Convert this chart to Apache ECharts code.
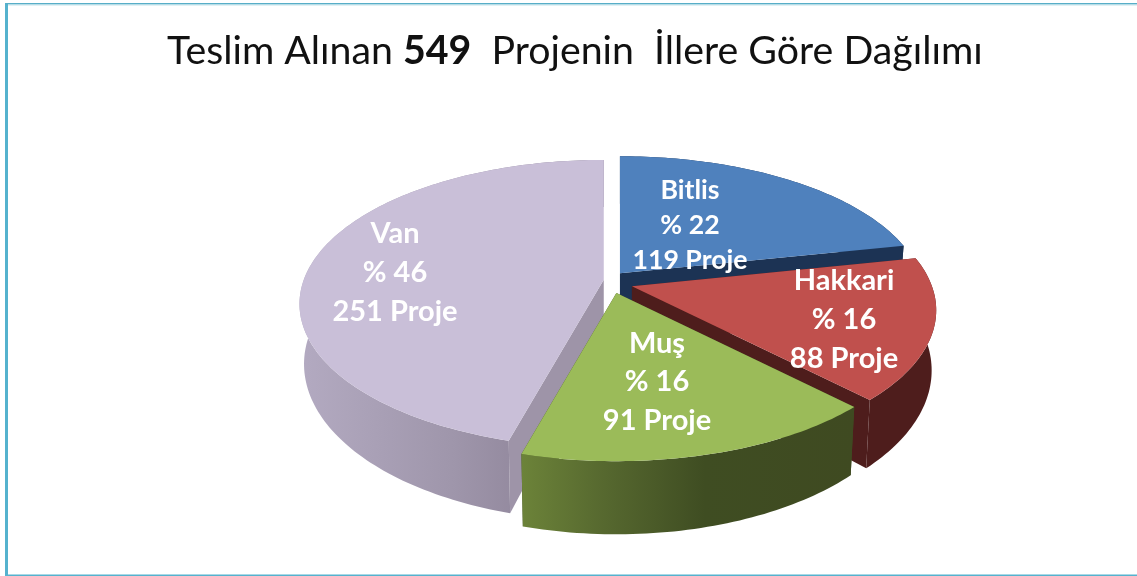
<!DOCTYPE html>
<html><head><meta charset="utf-8">
<style>html,body{margin:0;padding:0;background:#fff}#c{width:1137px;height:576px}</style>
<script src="https://cdn.jsdelivr.net/npm/echarts@6/dist/echarts.min.js"></script>
</head><body><div id="c"></div>
<script>
const provinces = ['Bitlis', 'Hakkari', 'Muş', 'Van'];
const projectCounts = [119, 88, 91, 251];
const percents = [22, 16, 16, 46];

/* style of each slice, clockwise from twelve o'clock */
const topColors = ['#4F81BD', '#C0504D', '#9BBB59', '#C9BFD8'];
const edgeColors = ['#1C3354', '#4E1D1C', '#3F4D22', '#9E94A8'];
const sideStops = [
  [[0, '#1C3354'], [1, '#1C3354']],
  [[0, '#4E1D1C'], [1, '#4E1D1C']],
  [[0, '#6C8339'], [0.25, '#56682F'], [0.55, '#3F4D22'], [1, '#3F4A21']],
  [[0, '#B3AAC1'], [0.5, '#9F96AB'], [1, '#857A8F']]
];
const explodeFactor = [1, 1.8, 1.25, 0.85];
const backScale = [0.975, 1, 1, 1];
const labelCenters = [[690, 225], [844, 320], [657, 382], [395, 273]];
const labelSizes = [26.7, 29, 29, 29];
const labelLeading = [35, 39, 38.5, 39];
const drawOrder = [0, 3, 1, 2];

const total = projectCounts.reduce((a, b) => a + b, 0);
const view = { cx: 613, cy: 281, ex: 11, ey: 10, R: 300, A: 140, k: 0.167, sx: 0.985, sy: 1.09, d: 58 };
const TAU = Math.PI * 2;

function project(c, t, bottom, ys) {
  const u = Math.sin(t), v = Math.cos(t), w = 1 + view.k * v;
  let x = view.R * u / w, y = -view.A * ys * v / w;
  if (bottom) { x *= view.sx; y = y * view.sy + view.d; }
  return [c[0] + x, c[1] + y];
}
function arc(c, a0, a1, bottom, ys) {
  const n = Math.max(8, Math.ceil((a1 - a0) / 0.02)), pts = [];
  for (let i = 0; i <= n; i++) pts.push(project(c, a0 + (a1 - a0) * i / n, bottom, ys));
  return pts;
}
function renderSlice(params, api) {
  const i = params.dataIndex, value = api.value(1);
  let a0 = 0;
  for (let j = 0; j < i; j++) a0 += projectCounts[j] / total * TAU;
  const a1 = a0 + value / total * TAU, mid = (a0 + a1) / 2;
  const f = explodeFactor[i];
  const c = [view.cx + view.ex * f * Math.sin(mid), view.cy - view.ey * f * Math.cos(mid)];
  const cb = [c[0], c[1] + view.d];
  const z = drawOrder.indexOf(i) * 10;
  const poly = (points, fill, dz) => ({
    type: 'polygon', z2: z + dz, shape: { points },
    style: { fill, stroke: null }
  });
  const top = arc(c, a0, a1, false, backScale[i]), bot = arc(c, a0, a1, true, backScale[i]);
  const side = top.concat(bot.slice().reverse());
  const lab = labelCenters[i], fs = labelSizes[i], lead = labelLeading[i];
  const lines = [api.value(0), '% ' + api.value(2), value + ' Proje'];
  return {
    type: 'group',
    children: [
      poly([c, top[0], bot[0], cb], edgeColors[i], 1),
      poly([c, top[top.length - 1], bot[bot.length - 1], cb], edgeColors[i], 1),
      poly(side, { type: 'linear', x: 0, y: 0, x2: 1, y2: 0, colorStops: sideStops[i].map(s => ({ offset: s[0], color: s[1] })) }, 2),
      poly([c].concat(top), topColors[i], 3)
    ].concat(lines.map((t, n) => ({
      type: 'text', z2: 200,
      style: {
        text: String(t), x: lab[0], y: lab[1] + (n - 1) * lead,
        align: 'center', verticalAlign: 'middle',
        fill: '#fff', fontFamily: 'Lato', fontWeight: 'bold', fontSize: fs
      }
    })))
  };
}

const frameColor = '#55B2CE';
const chart = echarts.init(document.getElementById('c'), null, { renderer: 'canvas' });
chart.setOption({
  animation: false,
  backgroundColor: '#fff',
  title: {
    text: 'Teslim Alınan {b|549}  Projenin  İllere Göre Dağılımı',
    left: 167, top: 32, padding: 0,
    textStyle: {
      fontFamily: 'Lato', fontSize: 39.3, fontWeight: 'normal', color: '#111',
      rich: { b: { fontFamily: 'Lato', fontSize: 39.3, fontWeight: 'bold', color: '#111' } }
    }
  },
  graphic: [
    { type: 'rect', shape: { x: 5, y: 3, width: 3, height: 573 }, style: { fill: frameColor }, silent: true },
    { type: 'rect', shape: { x: 6, y: 3, width: 1131, height: 1.5 }, style: { fill: '#57AEC8' }, silent: true },
    { type: 'rect', shape: { x: 8, y: 4.5, width: 1129, height: 1 }, style: { fill: '#C4E4EC' }, silent: true },
    { type: 'rect', shape: { x: 6, y: 574.5, width: 1131, height: 1.5 }, style: { fill: frameColor }, silent: true }
  ],
  series: [{
    type: 'custom',
    coordinateSystem: 'none',
    renderItem: renderSlice,
    dimensions: ['province', 'projects', 'percent'],
    encode: { itemName: 0, value: 1 },
    data: provinces.map((p, i) => [p, projectCounts[i], percents[i]])
  }]
});
</script></body></html>
